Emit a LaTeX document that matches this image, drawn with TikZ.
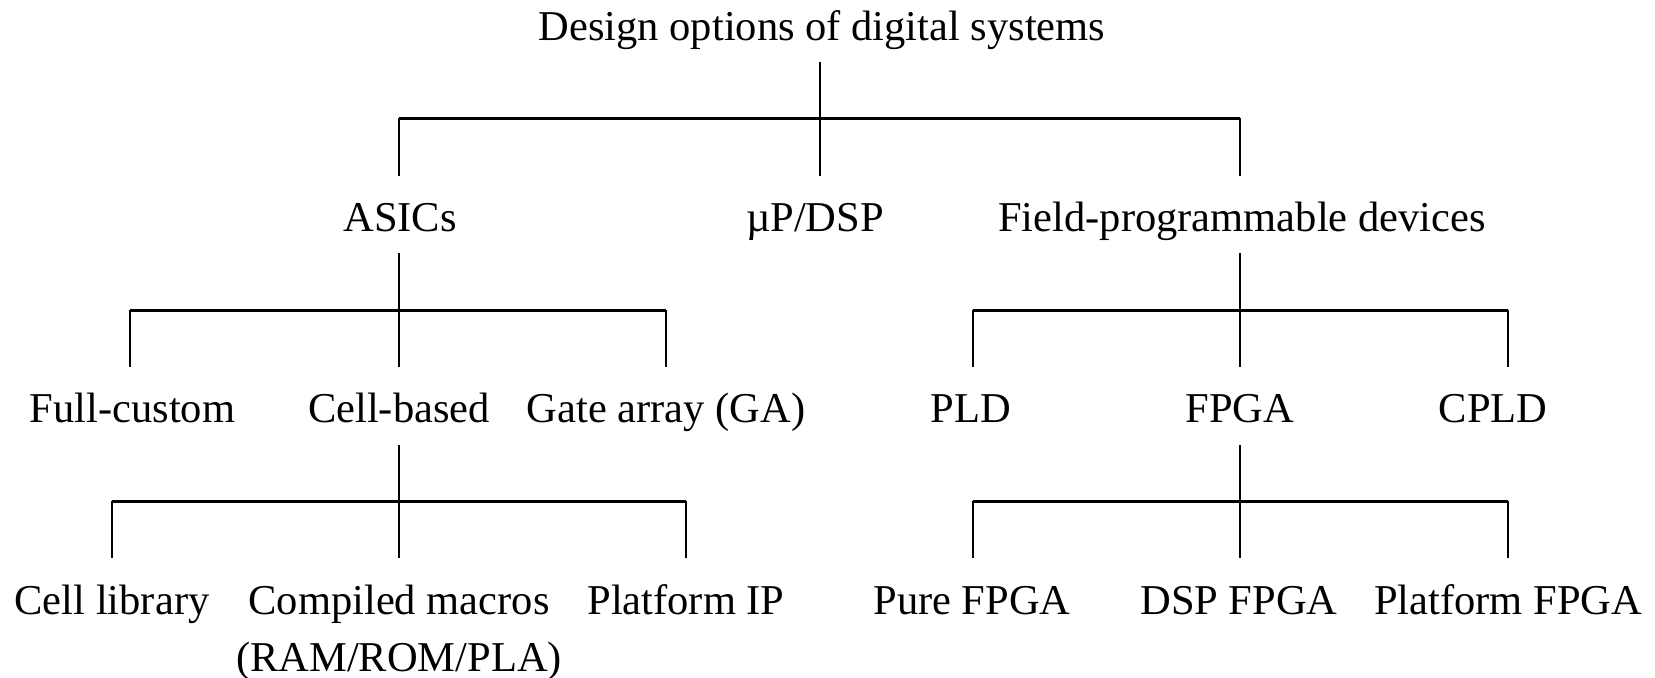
\documentclass[tikz,border=0pt]{standalone}
\usepackage{fontspec}
\setmainfont{Liberation Serif}
\begin{document}
\begin{tikzpicture}[x=0.5pt,y=-0.5pt,
  lbl/.style={anchor=base,inner sep=0pt,font=\fontsize{21.25}{28.5}\selectfont,align=center},
  vline/.style={line width=1pt},
  hline/.style={line width=1.5pt}]
\useasboundingbox (0,0) rectangle (1655,677);
% text nodes
\node[lbl] (title) at (822,40) {Design options of digital systems};
\node[lbl] (asics) at (400,231) {ASICs};
\node[lbl] (mp) at (815,231) {µP/DSP};
\node[lbl] (fpd) at (1242,231) {Field-programmable devices};
\node[lbl] (full) at (132.5,422) {Full-custom};
\node[lbl] (cell) at (399,422) {Cell-based};
\node[lbl] (ga) at (666,422) {Gate array (GA)};
\node[lbl] (pld) at (971,422) {PLD};
\node[lbl] (fpga) at (1240,422) {FPGA};
\node[lbl] (cpld) at (1493,422) {CPLD};
\node[lbl] (clib) at (112,614) {Cell library};
\node[lbl] (cmac) at (399,671) {Compiled macros\\(RAM/ROM/PLA)};
\node[lbl] (pip) at (686,614) {Platform IP};
\node[lbl] (pure) at (972,614) {Pure FPGA};
\node[lbl] (dsp) at (1239,614) {DSP FPGA};
\node[lbl] (pfpga) at (1508,614) {Platform FPGA};
% junction coordinates
\coordinate (t0) at (819.5,62);
\coordinate (tb) at (819.5,118);
\coordinate (tl) at (399,118);
\coordinate (tr) at (1240,118);
\coordinate (ta) at (399,176);
\coordinate (tm) at (819.5,176);
\coordinate (tf) at (1240,176);
% level 0
\draw[vline] (t0) -- (tb);
\draw[hline] (tl) -- (tr);
\draw[vline] (tl) -- (ta);
\draw[vline] (tb) -- (tm);
\draw[vline] (tr) -- (tf);
% ASICs
\coordinate (a0) at (399,253);
\coordinate (ab) at (399,310);
\coordinate (al) at (130,310);
\coordinate (ar) at (666,310);
\coordinate (a1) at (130,367);
\coordinate (a2) at (399,367);
\coordinate (a3) at (666,367);
\draw[vline] (a0) -- (ab);
\draw[hline] (al) -- (ar);
\draw[vline] (al) -- (a1);
\draw[vline] (ab) -- (a2);
\draw[vline] (ar) -- (a3);
% FPD
\coordinate (f0) at (1240,253);
\coordinate (fb) at (1240,310);
\coordinate (fl) at (972.5,310);
\coordinate (fr) at (1508,310);
\coordinate (f1) at (972.5,367);
\coordinate (f2) at (1240,367);
\coordinate (f3) at (1508,367);
\draw[vline] (f0) -- (fb);
\draw[hline] (fl) -- (fr);
\draw[vline] (fl) -- (f1);
\draw[vline] (fb) -- (f2);
\draw[vline] (fr) -- (f3);
% Cell-based
\coordinate (c0) at (399,445);
\coordinate (cb) at (399,501);
\coordinate (cl) at (112,501);
\coordinate (cr) at (686,501);
\coordinate (c1) at (112,558);
\coordinate (c2) at (399,558);
\coordinate (c3) at (686,558);
\draw[vline] (c0) -- (cb);
\draw[hline] (cl) -- (cr);
\draw[vline] (cl) -- (c1);
\draw[vline] (cb) -- (c2);
\draw[vline] (cr) -- (c3);
% FPGA
\coordinate (g0) at (1240,445);
\coordinate (gb) at (1240,501);
\coordinate (gl) at (972.5,501);
\coordinate (gr) at (1508,501);
\coordinate (g1) at (972.5,558);
\coordinate (g2) at (1240,558);
\coordinate (g3) at (1508,558);
\draw[vline] (g0) -- (gb);
\draw[hline] (gl) -- (gr);
\draw[vline] (gl) -- (g1);
\draw[vline] (gb) -- (g2);
\draw[vline] (gr) -- (g3);
\end{tikzpicture}
\end{document}
